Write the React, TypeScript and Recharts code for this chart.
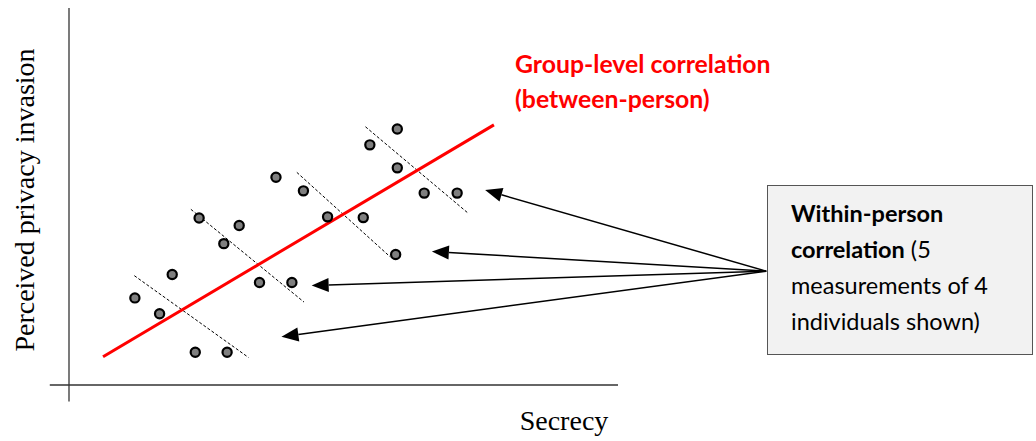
import { ComposedChart, ReferenceLine, Scatter, XAxis, YAxis } from "recharts";

// 4 individuals x 5 measurements (secrecy, perceived privacy invasion), arbitrary 0-100 units
const person1 = [
  { x: 12.0, y: 23.1 },
  { x: 18.8, y: 29.3 },
  { x: 16.5, y: 18.9 },
  { x: 23.0, y: 8.7 },
  { x: 28.8, y: 8.7 },
];
const person2 = [
  { x: 23.7, y: 44.3 },
  { x: 31.0, y: 42.3 },
  { x: 28.2, y: 37.5 },
  { x: 34.7, y: 27.2 },
  { x: 40.6, y: 27.2 },
];
const person3 = [
  { x: 37.7, y: 55.1 },
  { x: 42.7, y: 51.5 },
  { x: 47.1, y: 44.6 },
  { x: 53.6, y: 44.4 },
  { x: 59.5, y: 34.6 },
];
const person4 = [
  { x: 59.8, y: 67.9 },
  { x: 54.8, y: 63.7 },
  { x: 59.8, y: 57.6 },
  { x: 64.7, y: 50.9 },
  { x: 70.7, y: 50.9 },
];

// within-person trend segments (dashed)
const withinLines = [
  [{ x: 11.9, y: 29.0 }, { x: 32.7, y: 7.3 }],
  [{ x: 22.2, y: 46.6 }, { x: 42.8, y: 22.0 }],
  [{ x: 41.5, y: 56.4 }, { x: 58.5, y: 34.0 }],
  [{ x: 54.0, y: 68.5 }, { x: 72.6, y: 45.7 }],
];

// between-person trend
const groupLine = [{ x: 6.2, y: 7.5 }, { x: 77.4, y: 69.0 }];

// arrows from the callout box to each person's cloud
const arrowStart = { x: 127.0, y: 30.2 };
const arrowTips = [
  { x: 75.8, y: 51.7 },
  { x: 66.1, y: 35.4 },
  { x: 44.2, y: 26.4 },
  { x: 38.7, y: 12.8 },
];

const groupLabel = ["Group-level correlation", "(between-person)"];

const serif = "'Liberation Serif', 'Times New Roman', serif";
const sans = "Lato, 'Open Sans', sans-serif";

function Dot(props: any) {
  const { cx, cy } = props;
  return <circle cx={cx} cy={cy} r={4.6} fill="#7f7f7f" stroke="#000" strokeWidth={2.2} />;
}

function Arrow(props: any) {
  const { x1, y1, x2, y2 } = props;
  const dx = x2 - x1;
  const dy = y2 - y1;
  const len = Math.sqrt(dx * dx + dy * dy);
  const ux = dx / len;
  const uy = dy / len;
  const headLen = 17;
  const headW = 7;
  const bx = x2 - ux * headLen;
  const by = y2 - uy * headLen;
  const pts = `${x2},${y2} ${bx - uy * headW},${by + ux * headW} ${bx + uy * headW},${by - ux * headW}`;
  return (
    <g>
      <line x1={x1} y1={y1} x2={bx} y2={by} stroke="#000" strokeWidth={1.5} />
      <polygon points={pts} fill="#000" />
    </g>
  );
}

export default function App() {
  return (
    <div style={{ position: "absolute", left: 0, top: 0, width: 1036, height: 441, background: "#fff" }}>
      <ComposedChart width={1036} height={441} margin={{ top: 8, right: 418, bottom: 56, left: 69 }}>
        <XAxis type="number" dataKey="x" domain={[0, 100]} hide />
        <YAxis type="number" dataKey="y" domain={[0, 100]} hide />

        {/* axes drawn as plain lines, crossing past the origin */}
        <ReferenceLine segment={[{ x: 0, y: -4.4 }, { x: 0, y: 100 }]} stroke="#333" strokeWidth={1.3} ifOverflow="visible" />
        <ReferenceLine segment={[{ x: -3.5, y: 0 }, { x: 100, y: 0 }]} stroke="#333" strokeWidth={1.3} ifOverflow="visible" />

        {withinLines.map((seg, i) => (
          <ReferenceLine key={"w" + i} segment={seg} stroke="#000" strokeWidth={1} strokeDasharray="3 2" ifOverflow="visible" />
        ))}

        <ReferenceLine segment={groupLine} stroke="#ff0000" strokeWidth={3} ifOverflow="visible" />

        {arrowTips.map((tip, i) => (
          <ReferenceLine key={"a" + i} segment={[arrowStart, tip]} shape={Arrow} ifOverflow="visible" />
        ))}

        {[person1, person2, person3, person4].map((d, i) => (
          <Scatter key={"p" + i} data={d} shape={Dot} isAnimationActive={false} />
        ))}
      </ComposedChart>

      {/* group-level label */}
      <div
        style={{
          position: "absolute",
          left: 515,
          top: 46,
          color: "#ff0000",
          fontFamily: sans,
          fontWeight: 700,
          fontSize: 24.8,
          lineHeight: "35px",
          whiteSpace: "nowrap",
        }}
      >
        {groupLabel.map((t) => (
          <div key={t}>{t}</div>
        ))}
      </div>

      {/* callout box */}
      <div
        style={{
          position: "absolute",
          left: 767,
          top: 185,
          width: 266,
          height: 170,
          background: "#f2f2f2",
          border: "1.5px solid #555",
          boxSizing: "border-box",
          padding: "9px 0 0 23px",
          fontFamily: sans,
          fontSize: 23.5,
          lineHeight: "36px",
          color: "#000",
          whiteSpace: "nowrap",
        }}
      >
        <div><b>Within-person</b></div>
        <div><b>correlation</b> (5</div>
        <div>measurements of 4</div>
        <div>individuals shown)</div>
      </div>

      {/* axis titles */}
      <div
        style={{
          position: "absolute",
          left: 564,
          top: 421,
          transform: "translate(-50%, -50%)",
          fontFamily: serif,
          fontSize: 28,
          whiteSpace: "nowrap",
        }}
      >
        Secrecy
      </div>
      <div
        style={{
          position: "absolute",
          left: 25,
          top: 200,
          transform: "translate(-50%, -50%) rotate(-90deg)",
          fontFamily: serif,
          fontSize: 28,
          whiteSpace: "nowrap",
        }}
      >
        Perceived privacy invasion
      </div>
    </div>
  );
}
